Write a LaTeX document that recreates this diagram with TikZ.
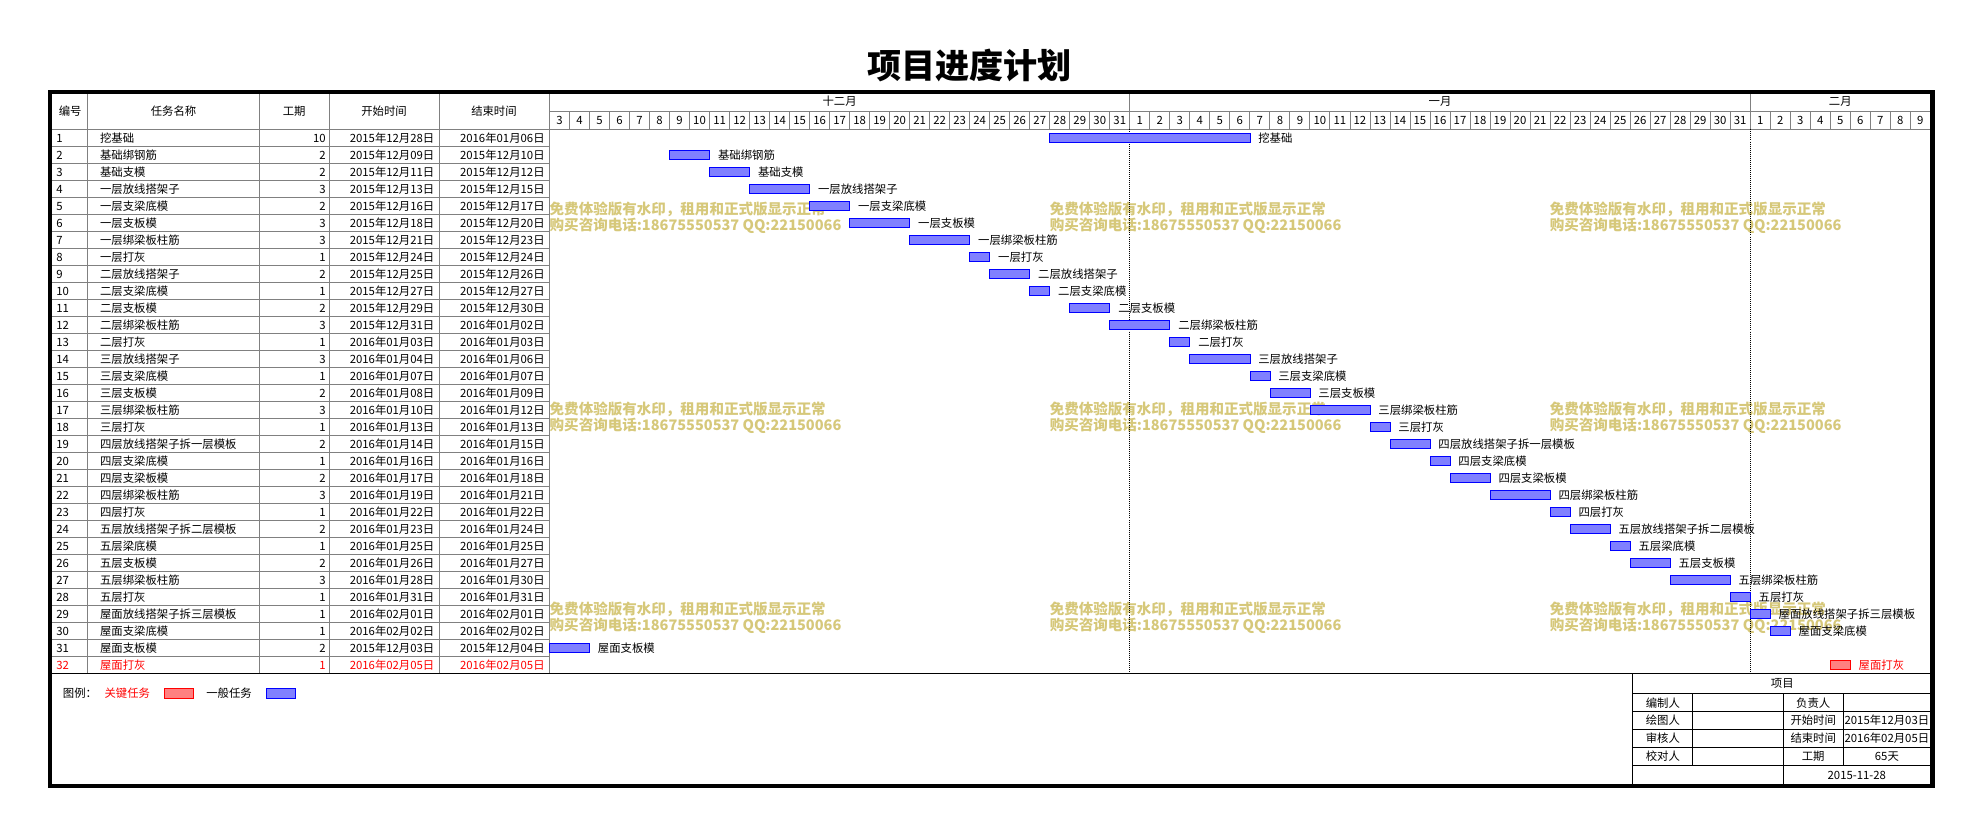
\documentclass[tikz,border=0pt]{standalone}
\usepackage{fontspec}
\setmainfont{Noto Sans CJK SC}
\usetikzlibrary{calc}
\definecolor{wmark}{RGB}{214,200,122}
\definecolor{gridgray}{RGB}{128,128,128}
\definecolor{barblue}{RGB}{128,128,255}
\definecolor{barred}{RGB}{255,128,128}
\tikzset{
  cell/.style={font=\fontsize{9}{9}\selectfont, inner sep=0pt},
  grid/.style={draw=gridgray, line width=0.7pt},
  plain bar/.style={draw=blue, fill=barblue, line width=0.6pt},
  key bar/.style={draw=red, fill=barred, line width=0.6pt},
  plain text/.style={text=black},
  key text/.style={text=red},
  frameline/.style={line width=3.2pt},
  wm/.style={text=wmark, font=\fontsize{11.5}{11.5}\selectfont\bfseries, anchor=west, inner sep=0pt},
}
% one row of the plan: no, task, days, from, to, first day index, kind
\def\ganttrow#1#2#3#4#5#6#7{
  \pgfmathsetmacro\rowtop{102.4+(#1-1)*13.46}
  \pgfmathsetmacro\xa{434.9+#6*15.84}
  \pgfmathsetmacro\xb{434.9+(#6+#3)*15.84}
  \node[cell, #7 text, anchor=west] (no#1) at (44.4,{\rowtop+6.9}) {#1};
  \node[cell, #7 text, anchor=west] (task#1) at (79,{\rowtop+6.9}) {#2};
  \node[cell, #7 text, anchor=east] (days#1) at (258,{\rowtop+6.9}) {#3};
  \node[cell, #7 text, anchor=east] (from#1) at (344,{\rowtop+6.9}) {#4};
  \node[cell, #7 text, anchor=east] (to#1) at (431.3,{\rowtop+6.9}) {#5};
  \draw[#7 bar] ({\xa},{\rowtop+3}) rectangle ({\xb},{\rowtop+10.3});
  \node[cell, #7 text, anchor=west] (lbl#1) at ({\xb+6.5},{\rowtop+7}) {#2};
}

\begin{document}
\begin{tikzpicture}[x=1pt,y=-1pt]
    \useasboundingbox (0,0) rectangle (1568,661);

    %%%%% TITLE %%%%%
    \node[font=\fontsize{27}{27}\selectfont\bfseries] (title) at (767.5,52) {项目进度计划};

    %%%%% WATERMARK %%%%%
    \foreach \wx in {0,1,2} \foreach \wy in {0,1,2} {
      \node[wm] (wa\wx\wy) at ({434.9+\wx*395.8},{165.5+\wy*158.45}) {免费体验版有水印，租用和正式版显示正常};
      \node[wm] (wb\wx\wy) at ({434.9+\wx*395.8},{178.6+\wy*158.45}) {购买咨询电话:18675550537 QQ:22150066};
    }

    %%%%% GRID %%%%%
    \foreach \cx in {69.2,205.5,260.7,348,434.9}
      \draw[grid] (\cx,72.5) -- (\cx,533.1);
    \foreach \r in {0,...,31}
      \draw[grid] (40,{102.4+\r*13.46}) -- (434.9,{102.4+\r*13.46});
    \draw[grid] (434.9,87.9) -- (1528,87.9);
    \draw[grid] (434.9,102.4) -- (1528,102.4);
    \foreach \d in {1,...,68}
      \draw[grid] ({434.9+\d*15.84},87.9) -- ({434.9+\d*15.84},102.4);
    \foreach \d in {29,60} {
      \draw[grid] ({434.9+\d*15.84},72.5) -- ({434.9+\d*15.84},102.4);
      \draw[densely dotted, line width=0.6pt] ({434.9+\d*15.84},102.4) -- ({434.9+\d*15.84},533.1);
    }

    %%%%% HEADER %%%%%
    \node[cell] (hno) at (55.6,88.2) {编号};
    \node[cell] (htask) at (137.4,88.2) {任务名称};
    \node[cell] (hdays) at (232.8,88.2) {工期};
    \node[cell] (hfrom) at (304,88.2) {开始时间};
    \node[cell] (hto) at (391,88.2) {结束时间};
    \node[cell] (dec) at (664.6,80.2) {十二月};
    \node[cell] (jan) at (1139.8,80.2) {一月};
    \node[cell] (feb) at (1456.6,80.2) {二月};
    \foreach \d in {3,...,31}
      \node[cell] (dec\d) at ({434.9+(\d-3)*15.84+7.92},95.2) {\d};
    \foreach \d in {1,...,31}
      \node[cell] (jan\d) at ({434.9+(\d+28)*15.84+7.92},95.2) {\d};
    \foreach \d in {1,...,9}
      \node[cell] (feb\d) at ({434.9+(\d+59)*15.84+7.92},95.2) {\d};

    %%%%% TASKS %%%%%
    \foreach \n/\task/\days/\from/\to/\k in {
      1/挖基础/10/2015年12月28日/2016年01月06日/25,
      2/基础绑钢筋/2/2015年12月09日/2015年12月10日/6,
      3/基础支模/2/2015年12月11日/2015年12月12日/8,
      4/一层放线搭架子/3/2015年12月13日/2015年12月15日/10,
      5/一层支梁底模/2/2015年12月16日/2015年12月17日/13,
      6/一层支板模/3/2015年12月18日/2015年12月20日/15,
      7/一层绑梁板柱筋/3/2015年12月21日/2015年12月23日/18,
      8/一层打灰/1/2015年12月24日/2015年12月24日/21,
      9/二层放线搭架子/2/2015年12月25日/2015年12月26日/22,
      10/二层支梁底模/1/2015年12月27日/2015年12月27日/24,
      11/二层支板模/2/2015年12月29日/2015年12月30日/26,
      12/二层绑梁板柱筋/3/2015年12月31日/2016年01月02日/28,
      13/二层打灰/1/2016年01月03日/2016年01月03日/31,
      14/三层放线搭架子/3/2016年01月04日/2016年01月06日/32,
      15/三层支梁底模/1/2016年01月07日/2016年01月07日/35,
      16/三层支板模/2/2016年01月08日/2016年01月09日/36,
      17/三层绑梁板柱筋/3/2016年01月10日/2016年01月12日/38,
      18/三层打灰/1/2016年01月13日/2016年01月13日/41,
      19/四层放线搭架子拆一层模板/2/2016年01月14日/2016年01月15日/42,
      20/四层支梁底模/1/2016年01月16日/2016年01月16日/44,
      21/四层支梁板模/2/2016年01月17日/2016年01月18日/45,
      22/四层绑梁板柱筋/3/2016年01月19日/2016年01月21日/47,
      23/四层打灰/1/2016年01月22日/2016年01月22日/50,
      24/五层放线搭架子拆二层模板/2/2016年01月23日/2016年01月24日/51,
      25/五层梁底模/1/2016年01月25日/2016年01月25日/53,
      26/五层支板模/2/2016年01月26日/2016年01月27日/54,
      27/五层绑梁板柱筋/3/2016年01月28日/2016年01月30日/56,
      28/五层打灰/1/2016年01月31日/2016年01月31日/59,
      29/屋面放线搭架子拆三层模板/1/2016年02月01日/2016年02月01日/60,
      30/屋面支梁底模/1/2016年02月02日/2016年02月02日/61,
      31/屋面支板模/2/2015年12月03日/2015年12月04日/0}
      {\ganttrow{\n}{\task}{\days}{\from}{\to}{\k}{plain}}
    \ganttrow{32}{屋面打灰}{1}{2016年02月05日}{2016年02月05日}{64}{key}

    %%%%% LEGEND %%%%%
    \node[cell, anchor=west] (legend) at (49.6,548.5) {图例：};
    \node[cell, key text, anchor=west] (keylbl) at (82.6,548.5) {关键任务};
    \draw[key bar] (129.9,544.5) rectangle (153.3,552.4);
    \node[cell, anchor=west] (plainlbl) at (163.1,548.5) {一般任务};
    \draw[plain bar] (210.9,544.5) rectangle (234.1,552.4);

    %%%%% SIGN BLOCK %%%%%
    \draw[line width=0.8pt] (1292.4,533.1) -- (1292.4,622);
    \foreach \by in {549,563.5,577.4,591.7,606}
      \draw[line width=0.8pt] (1292.4,\by) -- (1528,\by);
    \draw[line width=0.8pt] (1340,549) -- (1340,606);
    \draw[line width=0.8pt] (1411.5,549) -- (1411.5,622);
    \draw[line width=0.8pt] (1459,549) -- (1459,606);
    \node[cell] (proj) at (1410.7,541.2) {项目};
    \node[cell] (maker) at (1316.2,556.2) {编制人};
    \node[cell] (drawer) at (1316.2,570.4) {绘图人};
    \node[cell] (checker) at (1316.2,584.5) {审核人};
    \node[cell] (proofer) at (1316.2,598.8) {校对人};
    \node[cell] (lead) at (1435.2,556.2) {负责人};
    \node[cell] (pstart) at (1435.2,570.4) {开始时间};
    \node[cell] (pend) at (1435.2,584.5) {结束时间};
    \node[cell] (pdays) at (1435.2,598.8) {工期};
    \node[cell] (vstart) at (1493.5,570.4) {2015年12月03日};
    \node[cell] (vend) at (1493.5,584.5) {2016年02月05日};
    \node[cell] (vdays) at (1493.5,598.8) {65天};
    \node[cell] (date) at (1469.7,613.5) {2015-11-28};

    %%%%% FRAME %%%%%
    \draw[line width=1pt] (39.9,533.1) -- (1529.6,533.1);
    \draw[frameline] (39.9,72.5) rectangle (1529.6,622);
\end{tikzpicture}
\end{document}
